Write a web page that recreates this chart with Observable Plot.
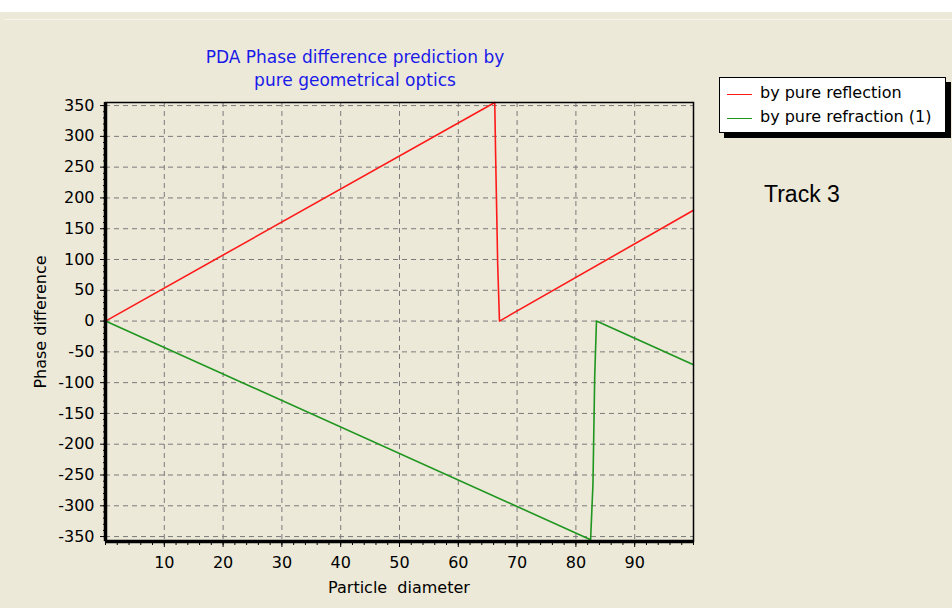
<!DOCTYPE html>
<html>
<head>
<meta charset="utf-8">
<script src="https://cdn.jsdelivr.net/npm/d3@7"></script>
<script src="https://cdn.jsdelivr.net/npm/@observablehq/plot@0.6"></script>
<style>
  html, body { margin: 0; padding: 0; background: #ECE9D8; }
  #wrap { position: relative; width: 952px; height: 608px; overflow: hidden; background: #ECE9D8; font-family: "DejaVu Sans", sans-serif; }
  #topstrip { position: absolute; left: 0; top: 0; width: 952px; height: 12px; background: #ffffff; }
  #topline { position: absolute; left: 4px; top: 19px; width: 948px; height: 1px; background: #f7f5ec; }
  #chart { position: absolute; left: 0; top: 0; }
  .title { position: absolute; left: 155px; width: 400px; text-align: center; color: #1a1ae8; font-size: 17px; line-height: 23px; top: 46px; }
  #legend { position: absolute; left: 719px; top: 77px; width: 225px; height: 54px; background: #fff; border: 1px solid #000; box-shadow: 5px 5px 0 #000; }
  .lg { position: absolute; left: 40px; font-size: 16px; color: #000; white-space: nowrap; }
  .sw { position: absolute; left: 7px; width: 25px; height: 0; border-top: 1.5px solid; }
  #track { position: absolute; left: 764px; top: 181px; font-family: "Liberation Sans", Arial, sans-serif; font-size: 23px; color: #000; }
  #xlabel { position: absolute; left: 299px; width: 200px; top: 578px; text-align: center; font-size: 16px; color: #000; white-space: pre; }
  #ylabel { position: absolute; left: 40px; top: 322px; transform: translate(-50%, -50%) rotate(-90deg); font-size: 16px; color: #000; white-space: pre; }
</style>
</head>
<body>
<div id="wrap">
  <div id="topstrip"></div>
  <div id="topline"></div>
  <div id="chart"></div>
  <div class="title" id="title"></div>
  <div id="legend"></div>
  <div id="track"></div>
  <div id="xlabel"></div>
  <div id="ylabel"></div>
</div>
<script>
// ---- data ----
const titleLines = ["PDA Phase difference prediction by", "pure geometrical optics"];
const seriesNames = ["by pure reflection", "by pure refraction (1)"];
const seriesColors = ["#ff1a1a", "#1f961f"];
const reflectionX = [0, 66.2, 66.35, 66.7, 67.0, 100];
const reflectionY = [0, 355, 268, 92, 0, 180];
const refractionX = [0, 82.5, 82.9, 83.2, 83.5, 100];
const refractionY = [0, -355, -265, -89, 0, -71];
const xTicks = [10, 20, 30, 40, 50, 60, 70, 80, 90];
const xMinorTicks = d3.range(0, 101, 2);
const yTicks = [-350, -300, -250, -200, -150, -100, -50, 0, 50, 100, 150, 200, 250, 300, 350];
const yMinorTicks = d3.range(-350, 351, 10);
const xDomain = [0, 100];
const yDomain = [-358, 355];
const xLabel = "Particle  diameter";
const yLabel = "Phase difference";
const trackLabel = "Track 3";

const refl = reflectionX.map((x, i) => ({x, y: reflectionY[i]}));
const refr = refractionX.map((x, i) => ({x, y: refractionY[i]}));

const gridStyle = {stroke: "#7a7a7a", strokeOpacity: 1, strokeWidth: 1, strokeDasharray: "5,4"};

const chart = Plot.plot({
  width: 952,
  height: 608,
  marginLeft: 105,
  marginRight: 259,
  marginTop: 102,
  marginBottom: 67,
  style: {background: "transparent", fontFamily: "DejaVu Sans", fontSize: "16px", color: "#000", overflow: "visible"},
  x: {domain: xDomain},
  y: {domain: yDomain},
  marks: [
    Plot.gridX(xTicks, gridStyle),
    Plot.gridY(yTicks, gridStyle),
    Plot.axisX(xMinorTicks, {anchor: "bottom", tickSize: 4, tickFormat: () => "", label: null}),
    Plot.axisX(xTicks, {anchor: "bottom", tickSize: 6, tickPadding: 9, tickFormat: d => String(d), label: null}),
    Plot.axisY(yMinorTicks, {anchor: "left", tickSize: 2, tickFormat: () => "", label: null}),
    Plot.axisY(yTicks, {anchor: "left", tickSize: 5, tickPadding: 6, tickFormat: d => String(d), label: null}),
    Plot.line(refl, {x: "x", y: "y", stroke: seriesColors[0], strokeWidth: 1.6}),
    Plot.line(refr, {x: "x", y: "y", stroke: seriesColors[1], strokeWidth: 1.6}),
    Plot.frame({stroke: "#000", strokeWidth: 1.5}),
    Plot.ruleX([xDomain[0]], {stroke: "#000", strokeWidth: 3.5}),
    Plot.ruleY([yDomain[0]], {stroke: "#000", strokeWidth: 3.5})
  ]
});
document.getElementById("chart").appendChild(chart);

const t = document.getElementById("title");
titleLines.forEach(s => { const d = document.createElement("div"); d.textContent = s; t.appendChild(d); });

const lg = document.getElementById("legend");
seriesNames.forEach((s, i) => {
  const sw = document.createElement("div");
  sw.className = "sw";
  sw.style.borderTopColor = seriesColors[i];
  sw.style.top = (16 + i * 24) + "px";
  lg.appendChild(sw);
  const tx = document.createElement("div");
  tx.className = "lg";
  tx.textContent = s;
  tx.style.top = (5 + i * 24) + "px";
  lg.appendChild(tx);
});
document.getElementById("track").textContent = trackLabel;
document.getElementById("xlabel").textContent = xLabel;
document.getElementById("ylabel").textContent = yLabel;
</script>
</body>
</html>
